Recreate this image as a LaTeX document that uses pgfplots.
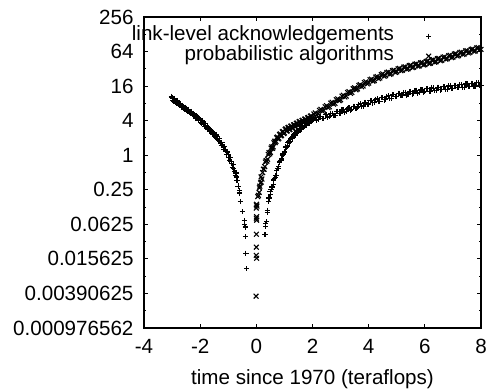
\documentclass[border=0pt]{standalone}
\usepackage{fontspec}
\setmainfont{Liberation Sans}
\usepackage{pgfplots}
\pgfplotsset{compat=1.18}
\begin{document}
\begin{tikzpicture}[font=\fontsize{20.6bp}{24bp}\selectfont]
\useasboundingbox (-144bp,-64bp) rectangle (343bp,328bp);
\begin{axis}[
  scale only axis, width=337bp, height=311bp,
  at={(0,0)}, anchor=south west,
  xmin=-4, xmax=8,
  ymode=log, log basis y=2,
  ymin=0.0009765625, ymax=256,
  xtick={-4,-2,0,2,4,6,8},
  xticklabels={-4,-2,0,2,4,6,8},
  ytick={0.0009765625,0.00390625,0.015625,0.0625,0.25,1,4,16,64,256},
  yticklabels={0.000976562,0.00390625,0.015625,0.0625,0.25,1,4,16,64,256},
  extra y ticks={0.001953125,0.0078125,0.03125,0.125,0.5,2,8,32,128},
  extra y tick labels={},
  extra y tick style={major tick length=2.5bp},
  tick align=inside,
  major tick length=4.5bp,
  every tick/.style={black, line width=1bp},
  axis line style={line width=1.2bp},
  yticklabel style={xshift=-7bp},
  xticklabel style={yshift=-8bp},
  xlabel={time since 1970 (teraflops)},
  xlabel style={at={(axis description cs:0.5,0)}, anchor=base, yshift=-56bp},
  legend cell align=right, legend plot pos=right,
  legend style={at={(axis description cs:1,1)}, anchor=north east, xshift=-49.5bp, yshift=-9bp,
    draw=none, fill=none, inner sep=0pt, column sep=32bp,
    nodes={inner sep=0pt, text height=14bp, text depth=6bp}},
]
\addplot[only marks, mark=+, mark size=2.6bp, line width=1.1bp, black] coordinates {
(-3.03,10.6) (-2.98,9.6)
(-3.00,10.1) (-2.95,8.75) (-2.90,9.25) (-2.85,8.05) (-2.80,8.45) (-2.75,7.35) (-2.70,7.80) (-2.65,6.75)
(-2.60,7.15) (-2.55,6.20) (-2.50,6.60) (-2.45,5.70) (-2.40,6.05) (-2.35,5.25) (-2.30,5.60) (-2.25,4.85)
(-2.20,5.10) (-2.15,4.45) (-2.10,4.65) (-2.05,4.00) (-2.00,4.15) (-1.95,3.57) (-1.90,3.75) (-1.85,3.20)
(-1.80,3.35) (-1.75,2.86) (-1.70,3.00) (-1.65,2.56) (-1.60,2.68) (-1.55,2.27) (-1.50,2.38) (-1.45,2.03)
(-1.40,2.11) (-1.35,1.79) (-1.30,1.81) (-1.25,1.50) (-1.20,1.52) (-1.15,1.27) (-1.10,1.27) (-1.05,1.04)
(-1.00,1.02) (-0.95,0.82) (-0.90,0.78) (-0.85,0.62) (-0.80,0.58) (-0.75,0.44) (-0.70,0.41) (-0.65,0.29)
(-0.60,0.24)
(-2.975,9.1) (-2.925,9.65) (-2.875,8.4) (-2.825,8.9) (-2.775,7.65) (-2.725,8.1) (-2.675,7.05) (-2.625,7.45)
(-2.575,6.5) (-2.525,6.85) (-2.475,5.95) (-2.425,6.3) (-2.375,5.5) (-2.325,5.8) (-2.275,5.05) (-2.225,5.35)
(-2.175,4.6) (-2.125,4.9) (-2.075,4.2) (-2.025,4.4) (-1.975,3.77) (-1.925,3.95) (-1.875,3.38) (-1.825,3.53)
(-1.775,3.02) (-1.725,3.16) (-1.675,2.71) (-1.625,2.83) (-1.575,2.42) (-1.525,2.51) (-1.475,2.16) (-1.425,2.25)
(-1.375,1.91) (-1.325,1.97) (-1.275,1.63) (-1.225,1.66) (-1.175,1.38) (-1.125,1.41) (-1.075,1.15) (-1.025,1.14)
(-0.975,0.92) (-0.925,0.90) (-0.875,0.71) (-0.825,0.68) (-0.775,0.52) (-0.725,0.49)
(-0.72,0.42) (-0.69,0.36) (-0.60,0.22) (-0.57,0.155) (-0.49,0.104) (-0.43,0.072) (-0.42,0.062)
(-0.40,0.058) (-0.40,0.055) (-0.39,0.038) (-0.37,0.0196) (-0.35,0.0105)
(0.31,0.041) (0.34,0.065) (0.34,0.058) (0.37,0.069) (0.39,0.11) (0.39,0.10) (0.44,0.155) (0.49,0.23)
(0.45,0.18) (0.50,0.21) (0.55,0.28) (0.60,0.31) (0.65,0.40) (0.70,0.44) (0.75,0.58) (0.80,0.64)
(0.85,0.82) (0.90,0.86) (0.95,1.08) (1.00,1.14) (1.05,1.44) (1.10,1.45) (1.15,1.73) (1.20,1.72)
(1.25,2.06) (1.30,2.04) (1.35,2.38) (1.40,2.31) (1.45,2.68) (1.50,2.58) (1.55,2.97) (1.60,2.87)
(1.65,3.30) (1.70,3.14) (1.75,3.60) (1.80,3.44) (1.85,3.92) (1.90,3.71) (1.95,4.20) (2.00,3.97)
(0.475,0.184) (0.525,0.255) (0.575,0.28) (0.625,0.37) (0.675,0.402) (0.725,0.534) (0.775,0.581) (0.825,0.763)
(0.875,0.798) (0.925,1.01) (0.975,1.05) (1.025,1.34) (1.075,1.37) (1.125,1.66) (1.175,1.64) (1.225,1.97)
(1.275,1.94) (1.325,2.31) (1.375,2.22) (1.425,2.60) (1.475,2.49) (1.525,2.90) (1.575,2.76) (1.625,3.22)
(1.675,3.04) (1.725,3.52) (1.775,3.33) (1.825,3.84) (1.875,3.61) (1.925,4.13) (1.975,3.87) (2.05,4.42)
(2.1,4.55) (2.2,4.15) (2.3,4.75) (2.4,4.40) (2.5,5.15) (2.6,4.75) (2.7,5.35) (2.8,4.95) (2.9,5.85) (3.0,5.35)
(3.1,6.15) (3.2,5.75) (3.3,6.75) (3.4,6.20) (3.5,7.15) (3.6,6.70) (3.7,7.85) (3.8,7.20) (3.9,8.30) (4.0,7.80)
(4.1,9.00) (4.2,8.30) (4.3,9.55) (4.4,8.75) (4.5,10.1) (4.6,9.35) (4.7,10.8) (4.8,9.90) (4.9,11.3) (5.0,10.5)
(5.1,12.0) (5.2,10.9) (5.3,12.4) (5.4,11.3) (5.5,12.9) (5.6,11.8) (5.7,13.5) (5.8,12.2) (5.9,13.9) (6.0,12.7)
(6.1,14.4) (6.2,13.1) (6.3,14.8) (6.4,13.4) (6.5,15.3) (6.6,13.8) (6.7,15.6) (6.8,14.2) (6.9,16.1) (7.0,14.7)
(7.1,16.6) (7.2,15.0) (7.3,16.9) (7.4,15.3) (7.5,17.5) (7.6,15.8) (7.7,17.9) (7.8,16.1) (7.9,18.3) (8.0,16.6)
(2.15,4.09) (2.25,4.75) (2.35,4.35) (2.45,5.06) (2.55,4.63) (2.65,5.38) (2.75,4.93) (2.85,5.73) (2.95,5.25) (3.05,6.13)
(3.15,5.64) (3.25,6.61) (3.35,6.09) (3.45,7.13) (3.55,6.57) (3.65,7.70) (3.75,7.09) (3.85,8.31) (3.95,7.65) (4.05,8.90)
(4.15,8.15) (4.25,9.48) (4.35,8.64) (4.45,10.05) (4.55,9.20) (4.65,10.66) (4.75,9.73) (4.85,11.34) (4.95,10.39) (5.05,11.98)
(5.15,10.81) (5.25,12.40) (5.35,11.19) (5.45,12.88) (5.55,11.70) (5.65,13.46) (5.75,12.13) (5.85,13.94) (5.95,12.60) (6.05,14.42)
(6.15,12.97) (6.25,14.84) (6.35,13.35) (6.45,15.26) (6.55,13.72) (6.65,15.69) (6.75,14.10) (6.85,16.11) (6.95,14.52) (7.05,16.64)
(7.15,14.95) (7.25,17.01) (7.35,15.23) (7.45,17.44) (7.55,15.70) (7.65,17.91) (7.75,16.03) (7.85,18.29) (7.95,16.45)
};
\addlegendentry{link-level acknowledgements}
\addplot[only marks, mark=x, mark size=3.4bp, line width=1.1bp, black] coordinates {
(0.00,0.136) (0.01,0.14) (0.02,0.13) (0.00,0.12) (0.01,0.085) (0.00,0.08) (0.01,0.074) (0.00,0.042)
(0.00,0.025) (0.00,0.018) (0.01,0.016) (-0.01,0.0035) (0.11,0.27) (0.17,0.42)
(0.05,0.19) (0.10,0.225) (0.15,0.33) (0.20,0.385) (0.25,0.57) (0.30,0.635) (0.35,0.81) (0.40,0.85)
(0.45,1.11) (0.50,1.12) (0.55,1.40) (0.60,1.40) (0.65,1.75) (0.70,1.75) (0.75,2.08) (0.80,1.98)
(0.85,2.35) (0.90,2.23) (0.95,2.61) (1.00,2.45) (1.05,2.89) (1.10,2.67) (1.15,3.06) (1.20,2.82)
(1.25,3.23) (1.30,2.98) (1.35,3.42) (1.40,3.17) (1.45,3.64) (1.50,3.35) (1.55,3.88) (1.60,3.54)
(1.65,4.07) (1.70,3.75) (1.75,4.27) (1.80,3.93) (1.85,4.55) (1.90,4.22) (1.95,4.87) (2.00,4.52)
(0.075,0.20) (0.125,0.289) (0.175,0.339) (0.225,0.499) (0.275,0.572) (0.325,0.762) (0.375,0.79) (0.425,1.03)
(0.475,1.06) (0.525,1.325) (0.575,1.325) (0.625,1.65) (0.675,1.66) (0.725,2.01) (0.775,1.92) (0.825,2.28)
(0.875,2.17) (0.925,2.55) (0.975,2.39) (1.025,2.81) (1.075,2.63) (1.125,3.02) (1.175,2.78) (1.225,3.19)
(1.275,2.94) (1.325,3.38) (1.375,3.12) (1.425,3.59) (1.475,3.31) (1.525,3.81) (1.575,3.51) (1.625,4.01)
(1.675,3.70) (1.725,4.23) (1.775,3.88) (1.825,4.47) (1.875,4.15) (1.925,4.79) (1.975,4.44) (2.05,5.24)
(2.1,5.45) (2.2,5.22) (2.3,6.30) (2.4,6.04) (2.5,7.28) (2.6,6.99) (2.7,8.36) (2.8,8.04) (2.9,9.60) (3.0,9.22)
(3.1,11.1) (3.2,10.7) (3.3,12.8) (3.4,12.4) (3.5,14.9) (3.6,14.3) (3.7,16.9) (3.8,16.1) (3.9,19.0) (4.0,18.1)
(4.1,21.2) (4.2,20.0) (4.3,23.5) (4.4,22.2) (4.5,26.1) (4.6,24.3) (4.7,28.1) (4.8,26.3) (4.9,30.3) (5.0,28.4)
(5.1,32.5) (5.2,30.2) (5.3,34.7) (5.4,32.1) (5.5,36.9) (5.6,34.0) (5.7,39.0) (5.8,35.9) (5.9,41.2) (6.0,37.9)
(6.1,43.6) (6.2,40.1) (6.3,46.0) (6.4,42.4) (6.5,48.7) (6.6,45.1) (6.7,51.7) (6.8,48.1) (6.9,55.1) (7.0,51.1)
(7.1,58.6) (7.2,54.4) (7.3,62.4) (7.4,58.0) (7.5,66.5) (7.6,61.7) (7.7,70.7) (7.8,65.6) (7.9,75.3) (8.0,69.8)
(2.15,5.05) (2.25,6.06) (2.35,5.84) (2.45,7.01) (2.55,6.76) (2.65,8.08) (2.75,7.77) (2.85,9.29) (2.95,8.92) (3.05,10.71)
(3.15,10.36) (3.25,12.40) (3.35,11.97) (3.45,14.42) (3.55,13.82) (3.65,16.38) (3.75,15.58) (3.85,18.44) (3.95,17.53) (4.05,20.67)
(4.15,19.52) (4.25,22.95) (4.35,21.66) (4.45,25.44) (4.55,23.85) (4.65,27.61) (4.75,25.75) (4.85,29.84) (4.95,27.79) (5.05,32.12)
(5.15,29.69) (5.25,34.19) (5.35,31.59) (5.45,36.36) (5.55,33.54) (5.65,38.48) (5.75,35.44) (5.85,40.65) (5.95,37.43) (6.05,42.93)
(6.15,39.57) (6.25,45.37) (6.35,41.8) (6.45,47.97) (6.55,44.37) (6.65,51.04) (6.75,47.22) (6.85,54.38) (6.95,50.26) (7.05,57.82)
(7.15,53.49) (7.25,61.59) (7.35,56.95) (7.45,65.56) (7.55,60.61) (7.65,69.75) (7.75,64.51) (7.85,74.25) (7.95,68.64)
};
\addlegendentry{probabilistic algorithms}
\end{axis}
\end{tikzpicture}
\end{document}
